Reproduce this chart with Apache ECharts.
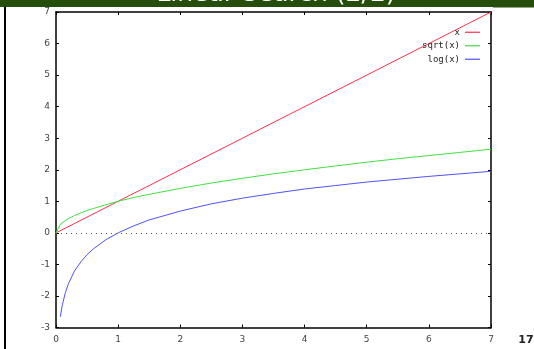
<!DOCTYPE html>
<html><head><meta charset="utf-8">
<script src="https://cdn.jsdelivr.net/npm/echarts@6/dist/echarts.min.js"></script>
<style>html,body{margin:0;padding:0;background:#fff}#c{width:534px;height:349px}</style>
</head><body><div id="c"></div>
<script>
const titleText = "Linear Search (2/2)";
const pageNumber = "17";
const xTicks = [0,1,2,3,4,5,6,7];
const yTicks = [-3,-2,-1,0,1,2,3,4,5,6,7];
const seriesNames = ["x","sqrt(x)","log(x)"];
const linX = [0, 7];
const linY = [0, 7];
const sqrtX = [0, 0.07, 0.1, 0.15, 0.2, 0.3, 0.4, 0.5, 0.6, 0.8, 1, 1.25, 1.5, 2, 2.5, 3, 3.5, 4, 4.5, 5, 5.5, 6, 6.5, 7];
const sqrtY = [0, 0.27, 0.32, 0.39, 0.45, 0.55, 0.63, 0.71, 0.77, 0.89, 1, 1.12, 1.22, 1.41, 1.58, 1.73, 1.87, 2, 2.12, 2.24, 2.35, 2.45, 2.55, 2.65];
const logX = [0.07, 0.1, 0.15, 0.2, 0.3, 0.4, 0.5, 0.6, 0.8, 1, 1.25, 1.5, 2, 2.5, 3, 3.5, 4, 4.5, 5, 5.5, 6, 6.5, 7];
const logY = [-2.66, -2.30, -1.90, -1.61, -1.20, -0.92, -0.69, -0.51, -0.22, 0, 0.22, 0.41, 0.69, 0.92, 1.10, 1.25, 1.39, 1.50, 1.61, 1.70, 1.79, 1.87, 1.95];
const zeroLineY = 0;

const zip = (a,b) => a.map((v,i)=>[v,b[i]]);
const colors = ["#ff3050", "#40e040", "#5050ff"];
const chart = echarts.init(document.getElementById('c'), null, {renderer:'canvas'});
const labelStyle = {color:'#444', fontSize:9, fontFamily:'DejaVu Sans'};
const axisBase = {type:'value', splitLine:{show:false},
  axisLine:{show:true, onZero:false, lineStyle:{color:'#000', width:1.5}},
  axisTick:{show:true, inside:true, length:3, lineStyle:{color:'#000', width:1}}};
chart.setOption({
  animation:false,
  grid:{left:56, top:12, width:435, height:315.5},
  graphic:[
    {type:'rect', shape:{x:0,y:0,width:534,height:7}, style:{fill:'#254d0b'}, z:10},
    {type:'rect', shape:{x:493,y:0,width:41,height:7.5}, style:{fill:'#254d0b'}, z:10},
    {type:'rect', shape:{x:4,y:7,width:2,height:342}, style:{fill:'#000'}, z:10},
    {type:'text', x:276, y:7, style:{text:titleText, fill:'#fff', font:'25px "DejaVu Sans"', align:'center', verticalAlign:'bottom'}, z:11},
    {type:'text', x:526, y:340, style:{text:pageNumber, fill:'#222', font:'bold 11px "DejaVu Sans"', align:'center', verticalAlign:'middle'}, z:11}
  ],
  legend:{show:true, orient:'vertical', right:49, top:22, align:'right', itemGap:3,
    itemWidth:15, itemHeight:1.2, icon:'rect',
    textStyle:{fontFamily:'DejaVu Sans Mono', fontSize:9, color:'#222', lineHeight:10.5, padding:[0,0,0,0]},
    data:seriesNames},
  xAxis:[
    Object.assign({}, axisBase, {min:0, max:7, interval:1, position:'bottom',
      axisLabel:{...labelStyle, margin:8, formatter:v=>xTicks.includes(v)?String(v):''}}),
    Object.assign({}, axisBase, {min:0, max:7, interval:1, position:'top', axisLabel:{show:false}})
  ],
  yAxis:[
    Object.assign({}, axisBase, {min:-3, max:7, interval:1, position:'left',
      axisLabel:{...labelStyle, margin:6, formatter:v=>yTicks.includes(v)?String(v):''}}),
    Object.assign({}, axisBase, {min:-3, max:7, interval:1, position:'right', axisLabel:{show:false}})
  ],
  series:[
    {name:seriesNames[0], type:'line', data:zip(linX,linY), showSymbol:false, color:colors[0], lineStyle:{width:1, color:colors[0]},
      markLine:{silent:true, symbol:'none', label:{show:false}, lineStyle:{type:[1,4], color:'#555', width:1}, data:[{yAxis:zeroLineY}]}},
    {name:seriesNames[1], type:'line', data:zip(sqrtX,sqrtY), showSymbol:false, color:colors[1], lineStyle:{width:1, color:colors[1]}},
    {name:seriesNames[2], type:'line', data:zip(logX,logY), showSymbol:false, color:colors[2], lineStyle:{width:1, color:colors[2]}}
  ]
});
</script></body></html>
